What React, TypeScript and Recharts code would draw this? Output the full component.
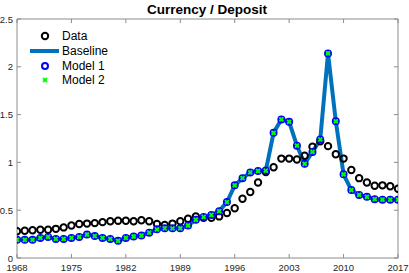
import {
  ComposedChart,
  Line,
  XAxis,
  YAxis,
  Legend,
  ReferenceLine,
} from "recharts";

const years = [
  1968, 1969, 1970, 1971, 1972, 1973, 1974, 1975, 1976, 1977,
  1978, 1979, 1980, 1981, 1982, 1983, 1984, 1985, 1986, 1987,
  1988, 1989, 1990, 1991, 1992, 1993, 1994, 1995, 1996, 1997,
  1998, 1999, 2000, 2001, 2002, 2003, 2004, 2005, 2006, 2007,
  2008, 2009, 2010, 2011, 2012, 2013, 2014, 2015, 2016, 2017,
];

const dataValues = [
  0.28, 0.285, 0.29, 0.295, 0.295, 0.305, 0.32, 0.34, 0.355, 0.36,
  0.365, 0.375, 0.385, 0.39, 0.39, 0.385, 0.395, 0.385, 0.355, 0.345,
  0.36, 0.385, 0.41, 0.435, 0.42, 0.42, 0.435, 0.47, 0.52, 0.62,
  0.69, 0.79, 0.9, 0.95, 1.04, 1.04, 1.03, 1.07, 1.165, 1.22,
  1.17, 1.085, 1.04, 0.92, 0.835, 0.79, 0.755, 0.76, 0.75, 0.725,
];

const baselineValues = [
  0.19, 0.19, 0.19, 0.21, 0.22, 0.2, 0.2, 0.21, 0.22, 0.245,
  0.23, 0.21, 0.2, 0.18, 0.21, 0.225, 0.235, 0.265, 0.3, 0.31,
  0.31, 0.31, 0.34, 0.4, 0.43, 0.45, 0.49, 0.585, 0.76, 0.835,
  0.895, 0.91, 0.915, 1.31, 1.45, 1.425, 1.175, 0.985, 1.11, 1.24,
  2.14, 1.43, 0.875, 0.71, 0.66, 0.64, 0.615, 0.61, 0.61, 0.61,
];

// the two models sit right on top of the baseline
const model1Values = [...baselineValues];
const model2Values = [...baselineValues];

const xTicks = [1968, 1975, 1982, 1989, 1996, 2003, 2010, 2017];
const yTicks = [0, 0.5, 1, 1.5, 2, 2.5];

const W = 409;
const H = 273;
const MARGIN = { top: 19, right: 11, left: 0, bottom: 0 };
const Y_AXIS_W = 17;
const X_AXIS_H = 15;
const PLOT_LEFT = MARGIN.left + Y_AXIS_W;
const PLOT_RIGHT = W - MARGIN.right;
const PLOT_TOP = MARGIN.top;
const PLOT_BOTTOM = H - X_AXIS_H;

const FONT = "'Liberation Sans', Arial, Helvetica, sans-serif";
const BOX = "#8c8c8c";
const TEXT = "#262626";
const BLUE_LINE = "#0072BD";

const chartData = years.map((year, i) => ({
  year,
  data: dataValues[i],
  baseline: baselineValues[i],
  model1: model1Values[i],
  model2: model2Values[i],
}));

const XTick = ({ x, payload }: any) => (
  <g>
    <line x1={x} x2={x} y1={PLOT_BOTTOM} y2={PLOT_BOTTOM - 4} stroke={BOX} />
    <line x1={x} x2={x} y1={PLOT_TOP} y2={PLOT_TOP + 4} stroke={BOX} />
    <text x={x} y={PLOT_BOTTOM + 13} textAnchor="middle" fontSize={9.5} fill={TEXT} fontFamily={FONT}>
      {payload.value}
    </text>
  </g>
);

const YTick = ({ y, payload }: any) => (
  <g>
    <line x1={PLOT_LEFT} x2={PLOT_LEFT + 4} y1={y} y2={y} stroke={BOX} />
    <line x1={PLOT_RIGHT} x2={PLOT_RIGHT - 4} y1={y} y2={y} stroke={BOX} />
    <text x={PLOT_LEFT - 4} y={y + 3.5} textAnchor="end" fontSize={9.5} fill={TEXT} fontFamily={FONT}>
      {payload.value}
    </text>
  </g>
);

const DataDot = (p: any) =>
  p.cx == null ? null : (
    <circle key={`d${p.index}`} cx={p.cx} cy={p.cy} r={3.2} fill="none" stroke="#000" strokeWidth={2} />
  );

const Model1Dot = (p: any) =>
  p.cx == null ? null : (
    <circle key={`m1${p.index}`} cx={p.cx} cy={p.cy} r={3} fill="none" stroke="#0000ff" strokeWidth={2} />
  );

const Model2Dot = (p: any) =>
  p.cx == null ? null : (
    <g key={`m2${p.index}`}>
      <line x1={p.cx - 2} x2={p.cx + 2} y1={p.cy - 2} y2={p.cy + 2} stroke="#00ff00" strokeWidth={1.8} />
      <line x1={p.cx - 2} x2={p.cx + 2} y1={p.cy + 2} y2={p.cy - 2} stroke="#00ff00" strokeWidth={1.8} />
    </g>
  );

// legend drawn in page coordinates
const LegendBox = () => {
  const rows = [36, 51, 66, 80];
  const mx = 45;
  const tx = 62;
  return (
    <svg width={130} height={90} style={{ display: "block" }}>
      <circle cx={mx} cy={rows[0]} r={3.2} fill="none" stroke="#000" strokeWidth={2} />
      <line x1={30} x2={59} y1={rows[1]} y2={rows[1]} stroke={BLUE_LINE} strokeWidth={4} />
      <circle cx={mx} cy={rows[2]} r={3} fill="none" stroke="#0000ff" strokeWidth={2} />
      <line x1={mx - 2} x2={mx + 2} y1={rows[3] - 2} y2={rows[3] + 2} stroke="#00ff00" strokeWidth={1.8} />
      <line x1={mx - 2} x2={mx + 2} y1={rows[3] + 2} y2={rows[3] - 2} stroke="#00ff00" strokeWidth={1.8} />
      {["Data", "Baseline", "Model 1", "Model 2"].map((label, i) => (
        <text key={label} x={tx} y={rows[i] + 4.3} fontSize={12} fill="#000" fontFamily={FONT}>
          {label}
        </text>
      ))}
    </svg>
  );
};

export default function App() {
  return (
    <div style={{ position: "absolute", left: 0, top: 0, width: W, height: H, background: "#fff" }}>
      <ComposedChart width={W} height={H} data={chartData} margin={MARGIN}>
        <XAxis
          dataKey="year"
          type="number"
          domain={[1968, 2017]}
          ticks={xTicks}
          interval={0}
          tick={<XTick />}
          tickLine={false}
          axisLine={{ stroke: BOX }}
          height={X_AXIS_H}
          allowDataOverflow
        />
        <YAxis
          type="number"
          domain={[0, 2.5]}
          ticks={yTicks}
          interval={0}
          tick={<YTick />}
          tickLine={false}
          axisLine={{ stroke: BOX }}
          width={Y_AXIS_W}
          allowDataOverflow
        />
        <ReferenceLine y={2.5} stroke={BOX} />
        <ReferenceLine x={2017} stroke={BOX} />
        <Legend
          layout="vertical"
          align="center"
          verticalAlign="middle"
          wrapperStyle={{ left: 0, top: 0, width: 130, height: 90 }}
          content={<LegendBox />}
        />
        <Line
          dataKey="data"
          stroke="none"
          dot={DataDot}
          activeDot={false}
          legendType="none"
          isAnimationActive={false}
        />
        <Line
          dataKey="baseline"
          stroke={BLUE_LINE}
          strokeWidth={4}
          dot={false}
          activeDot={false}
          isAnimationActive={false}
        />
        <Line
          dataKey="model1"
          stroke="none"
          dot={Model1Dot}
          activeDot={false}
          isAnimationActive={false}
        />
        <Line
          dataKey="model2"
          stroke="none"
          dot={Model2Dot}
          activeDot={false}
          isAnimationActive={false}
        />
      </ComposedChart>
      <svg
        width={W}
        height={18}
        style={{ position: "absolute", left: 0, top: 0, pointerEvents: "none" }}
      >
        <text x={207} y={14} textAnchor="middle" fontSize={13.5} fontWeight="bold" fill="#000" fontFamily={FONT}>
          Currency / Deposit
        </text>
      </svg>
    </div>
  );
}
